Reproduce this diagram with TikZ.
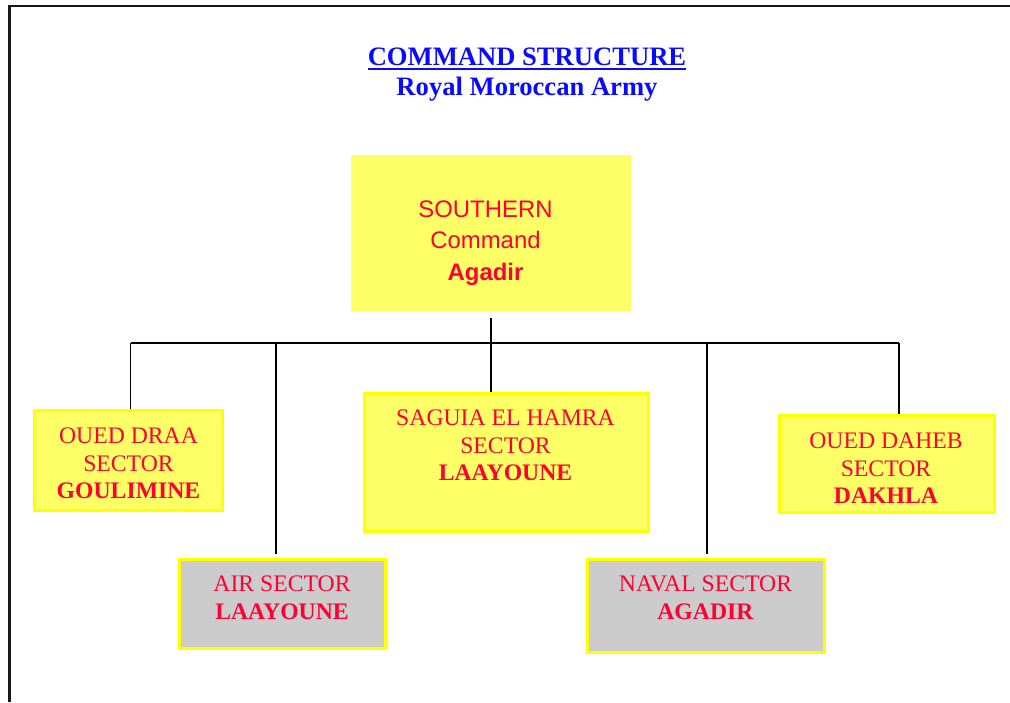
\documentclass[tikz,border=0pt]{standalone}
\usepackage{fontspec}
\setmainfont{Liberation Serif}
\setsansfont{Liberation Sans}
\definecolor{boxfill}{RGB}{255,255,102}
\definecolor{boxedge}{RGB}{255,255,0}
\definecolor{boxgray}{RGB}{204,204,204}
\definecolor{labred}{RGB}{255,0,51}
\definecolor{titleblue}{RGB}{10,10,255}
\tikzset{
  ybox/.style={draw=boxedge, line width=3pt, fill=boxfill, inner sep=0pt, rectangle},
  gbox/.style={ybox, fill=boxgray},
  lab/.style={text=labred, font=\fontsize{23.7}{27.5}\selectfont, align=center, inner sep=0pt},
  conn/.style={line width=1.7pt, black},
  thickconn/.style={line width=2.6pt, black},
  titlefont/.style={font=\bfseries\fontsize{26.6}{30}\selectfont, text=titleblue, anchor=base, inner sep=0pt}
}
\begin{document}
\begin{tikzpicture}[x=1pt,y=-1pt]
\useasboundingbox (0,0) rectangle (1010,702);
% page frame
\draw[line width=2.5pt, black!90] (9.5,702) -- (9.5,6) -- (1010,6);
% title
\node[titlefont] (title) at (527,65) {COMMAND STRUCTURE};
\node[titlefont] (subtitle) at (527,95) {Royal Moroccan Army};
\draw[titleblue, line width=2pt] ([yshift=-4.3pt]title.base west) -- ([yshift=-4.3pt]title.base east);
% boxes
\node[rectangle, fill=boxfill, inner sep=0pt, minimum width=280pt, minimum height=156pt] (south) at (491,233) {};
\node[ybox, minimum width=188pt, minimum height=100pt] (draa) at (128.5,460.5) {};
\node[ybox, minimum width=284pt, minimum height=138pt] (saguia) at (506.5,462.5) {};
\node[ybox, minimum width=215pt, minimum height=97pt] (daheb) at (887,464) {};
\node[gbox, minimum width=206pt, minimum height=89pt] (air) at (282.5,604) {};
\node[gbox, minimum width=237pt, minimum height=93pt] (naval) at (706,606) {};
% texts
\node[lab, font=\sffamily\fontsize{23.9}{31.5}\selectfont] (southT) at (485.5,243) {SOUTHERN\\Command\\\textbf{Agadir}};
\node[lab] (draaT) at (128.5,463.5) {OUED DRAA\\SECTOR\\\textbf{GOULIMINE}};
\node[lab] (saguiaT) at (505.5,445.3) {SAGUIA EL HAMRA\\SECTOR\\\textbf{LAAYOUNE}};
\node[lab] (dahebT) at (886,468.3) {OUED DAHEB\\SECTOR\\\textbf{DAKHLA}};
\node[lab] (airT) at (282,598) {AIR SECTOR\\\textbf{LAAYOUNE}};
\node[lab] (navalT) at (705.5,598) {NAVAL SECTOR\\\textbf{AGADIR}};
% connectors
\coordinate (busL) at (130.5,343);
\coordinate (busR) at (899,343);
\coordinate (stemTop) at (491,318);
\coordinate (airTop) at (276,554);
\coordinate (navTop) at (707,554);
\draw[conn] (busL) -- (busR);
\draw[conn] (busL) -- (busL |- draa.north);
\draw[thickconn] (stemTop) -- (stemTop |- saguia.north);
\draw[thickconn] (airTop |- busL) -- (airTop);
\draw[thickconn] (navTop |- busL) -- (navTop);
\draw[conn] (busR) -- (busR |- daheb.north);
\end{tikzpicture}
\end{document}
